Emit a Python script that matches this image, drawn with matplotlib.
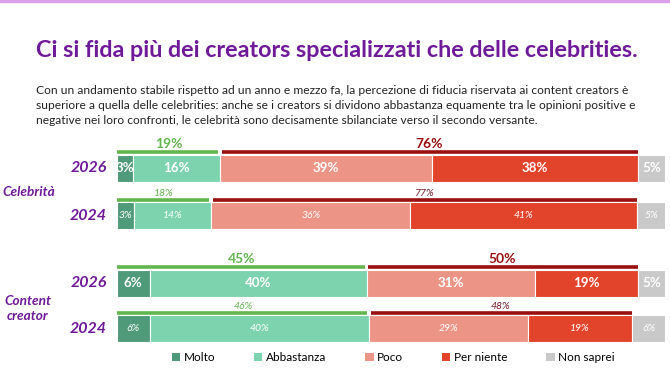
import matplotlib.pyplot as plt
from matplotlib.patches import Patch

# dati
righe = ['Celebrità 2026', 'Celebrità 2024', 'Content creator 2026', 'Content creator 2024']
anni = ['2026', '2024', '2026', '2024']
gruppi = ['Celebrità', 'Content\ncreator']
categorie = ['Molto', 'Abbastanza', 'Poco', 'Per niente', 'Non saprei']
molto = [3, 3, 6, 6]
abbastanza = [16, 14, 40, 40]
poco = [39, 36, 31, 29]
per_niente = [38, 41, 19, 19]
non_saprei = [5, 5, 5, 6]
positivi = [19, 18, 45, 46]
negativi = [76, 77, 50, 48]

colori = ['#4f9a79', '#7dd3ae', '#ec9485', '#e1432b', '#c9c9c9']
verde_linea = '#62b64e'
rosso_linea = '#9a0f0f'
viola = '#6f1a98'

plt.rcParams['font.family'] = ['Lato', 'DejaVu Sans']

fig = plt.figure(figsize=(6.7, 3.77), dpi=100)

# linea viola in alto
fig.add_artist(plt.Line2D([0, 1], [0.997, 0.997], color='#d9a2e8', lw=2.5))

fig.text(0.053, 0.866, 'Ci si fida più dei creators specializzati che delle celebrities.',
         fontsize=16.8, fontweight='bold', color=viola, va='center')
fig.text(0.053, 0.775,
         'Con un andamento stabile rispetto ad un anno e mezzo fa, la percezione di fiducia riservata ai content creators è\n'
         'superiore a quella delle celebrities: anche se i creators si dividono abbastanza equamente tra le opinioni positive e\n'
         'negative nei loro confronti, le celebrità sono decisamente sbilanciate verso il secondo versante.',
         fontsize=8.65, color='#222222', va='top', linespacing=1.45)

# asse in unità "pixel" verticali per il posizionamento
ax = fig.add_axes([117 / 670, 1 - 346 / 377, 548 / 670, 206 / 377])
ax.set_xlim(0, 100)
ax.set_ylim(346, 140)
ax.axis('off')

y_righe = [168.5, 216, 283.5, 329]
altezza = 27
serie = [molto, abbastanza, poco, per_niente, non_saprei]

for i, y in enumerate(y_righe):
    vals = [s[i] for s in serie]
    tot = sum(vals)
    quote = [v / tot * 100 for v in vals]
    nuovo = anni[i] == '2026'
    left = 0
    bordi = []
    for j, q in enumerate(quote):
        ax.barh(y, q, left=left, height=altezza, color=colori[j],
                edgecolor='white', linewidth=0.8)
        ax.text(left + q / 2, y, f'{vals[j]}%', ha='center', va='center', color='white',
                fontsize=9.6 if nuovo else 7.5,
                fontweight='bold' if nuovo else 'normal',
                style='normal' if nuovo else 'italic')
        left += q
        bordi.append(left)
    # staffe sopra le barre
    yl = y - altezza / 2 - 2.5
    ax.plot([0, bordi[1] - 0.3], [yl, yl], color=verde_linea, lw=2.6,
            solid_capstyle='butt')
    ax.plot([bordi[1] + 0.3, bordi[3]], [yl, yl], color=rosso_linea, lw=2.6,
            solid_capstyle='butt')
    fs = 10 if nuovo else 7.5
    ax.text(bordi[1] / 2, yl - 2, f'{positivi[i]}%', ha='center', va='bottom',
            color=verde_linea, fontsize=fs,
            fontweight='bold' if nuovo else 'normal',
            style='normal' if nuovo else 'italic')
    ax.text((bordi[1] + bordi[3]) / 2, yl - 2, f'{negativi[i]}%', ha='center',
            va='bottom', color=rosso_linea if nuovo else '#7a1a2a', fontsize=fs,
            fontweight='bold' if nuovo else 'normal',
            style='normal' if nuovo else 'italic')
    # etichetta anno
    ax.text(-1.8, y, anni[i], ha='right', va='center', color=viola, fontsize=11.5,
            fontweight='bold', style='italic')

# etichette dei gruppi
ax.text(-16, 192, gruppi[0], ha='center', va='center', color=viola,
        fontsize=9.8, fontweight='bold', style='italic')
ax.text(-16.3, 309, gruppi[1], ha='center', va='center', color=viola,
        fontsize=9.8, fontweight='bold', style='italic', linespacing=1.3)

handles = [Patch(facecolor=c, edgecolor='none') for c in colori]
fig.legend(handles, categorie, loc='center', bbox_to_anchor=(0.587, 0.052),
           ncol=5, frameon=False, fontsize=8.5, handlelength=0.7,
           handleheight=0.7, handletextpad=0.3, columnspacing=3.3)

fig.savefig('out.png', dpi=100)
